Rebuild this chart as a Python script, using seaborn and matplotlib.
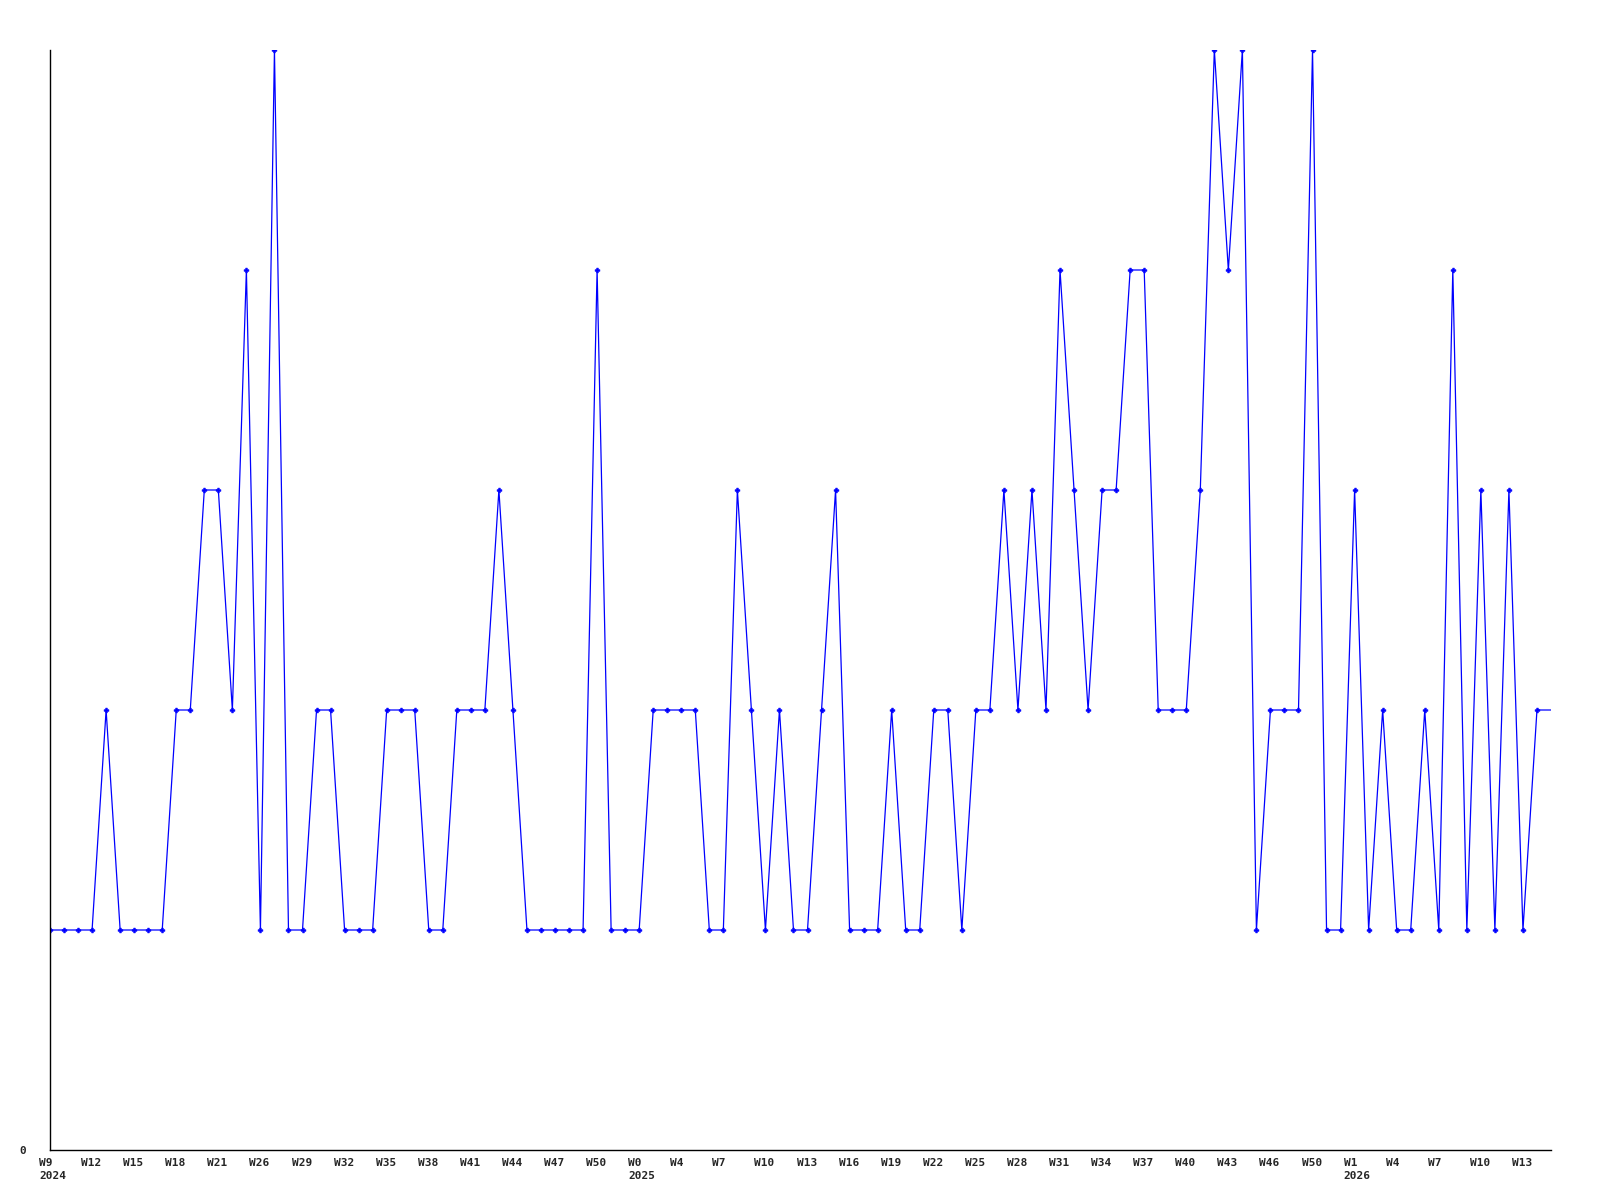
import matplotlib
matplotlib.use("Agg")
import matplotlib.pyplot as plt
from matplotlib.transforms import ScaledTranslation
import seaborn as sns
import pandas as pd

values = [1, 1, 1, 1, 2, 1, 1, 1, 1, 2,
          2, 3, 3, 2, 4, 1, 5, 1, 1, 2,
          2, 1, 1, 1, 2, 2, 2, 1, 1, 2,
          2, 2, 3, 2, 1, 1, 1, 1, 1, 4,
          1, 1, 1, 2, 2, 2, 2, 1, 1, 3,
          2, 1, 2, 1, 1, 2, 3, 1, 1, 1,
          2, 1, 1, 2, 2, 1, 2, 2, 3, 2,
          3, 2, 4, 3, 2, 3, 3, 4, 4, 2,
          2, 2, 3, 5, 4, 5, 1, 2, 2, 2,
          5, 1, 1, 3, 1, 2, 1, 1, 2, 1,
          4, 1, 3, 1, 3, 1, 2, 2]

week_labels = ["W9", "W12", "W15", "W18", "W21", "W26", "W29", "W32", "W35",
               "W38", "W41", "W44", "W47", "W50", "W0", "W4", "W7", "W10",
               "W13", "W16", "W19", "W22", "W25", "W28", "W31", "W34", "W37",
               "W40", "W43", "W46", "W50", "W1", "W4", "W7", "W10", "W13"]
year_labels = {0: "2024", 14: "2025", 31: "2026"}

sns.set_style("white")
plt.rcParams['font.family'] = ['DejaVu Sans Mono', 'DejaVu Sans']

df = pd.DataFrame({"idx": range(len(values)), "val": values})

fig = plt.figure(figsize=(16, 12), dpi=100)
ax = fig.add_axes([50 / 1600, 50 / 1200, 1501 / 1600, 1100 / 1200])

sns.lineplot(data=df, x="idx", y="val", ax=ax, color="#0000ff", linewidth=0.9,
             marker="P", markersize=3.5, markeredgewidth=0.4,
             markeredgecolor="#0000ff", markevery=list(range(len(values) - 1)),
             sort=False)

ax.set_xlim(0, len(values) - 1)
ax.set_ylim(0, 5)

ticks = list(range(0, 3 * len(week_labels), 3))
labels = []
for k, w in enumerate(week_labels):
    if k in year_labels:
        labels.append(w + "\n" + year_labels[k])
    else:
        labels.append(w)
ax.set_xticks(ticks)
ax.set_xticklabels(labels, ha="left", fontsize=8, fontweight="bold",
                   linespacing=1.35)
ax.tick_params(axis="x", length=0, pad=6)
offset = ScaledTranslation(-11 / 100, 0, fig.dpi_scale_trans)
for lab in ax.get_xticklabels():
    lab.set_transform(lab.get_transform() + offset)

ax.set_yticks([0])
ax.set_yticklabels(["0"], fontsize=8, fontweight="bold")
ax.tick_params(axis="y", length=0, pad=17)

ax.set_xlabel("")
ax.set_ylabel("")
for s in ["top", "right"]:
    ax.spines[s].set_visible(False)
for s in ["left", "bottom"]:
    ax.spines[s].set_color("black")
    ax.spines[s].set_linewidth(1)

fig.savefig("out.png", dpi=100)
